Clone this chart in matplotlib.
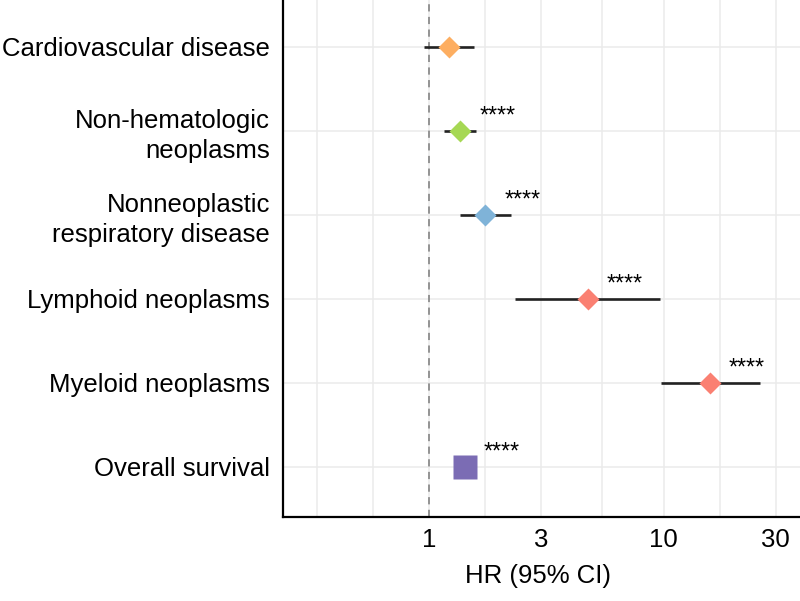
import numpy as np
import matplotlib
matplotlib.use("Agg")
import matplotlib.pyplot as plt
from matplotlib.ticker import FixedLocator, NullFormatter

# ---- data ----
categories = ["Cardiovascular disease", "Non-hematologic\nneoplasms",
              "Nonneoplastic\nrespiratory disease", "Lymphoid neoplasms",
              "Myeloid neoplasms", "Overall survival"]
hr = [1.22, 1.36, 1.74, 4.74, 15.7, 1.42]
ci_low = [0.95, 1.16, 1.36, 2.32, 9.7, 1.38]
ci_high = [1.55, 1.58, 2.23, 9.63, 25.7, 1.47]
signif = ["", "****", "****", "****", "****", "****"]
colors = ["#FDAE61", "#A6D854", "#7FB3D8", "#FA8072", "#FA8072", "#7B6CB4"]
markers = ["D", "D", "D", "D", "D", "s"]
x_ticks = [1, 3, 10, 30]
x_ticklabels = ["1", "3", "10", "30"]
x_minor = [1/3, np.sqrt(1/3), np.sqrt(3), np.sqrt(30), np.sqrt(300), 100]

plt.rcParams['font.family'] = ['Liberation Sans', 'DejaVu Sans']
FS = 18.5

fig = plt.figure(figsize=(8, 6.01), dpi=100)
W, H = 800, 601
ax_left_px, ax_right_px = 283, 830
ax_bottom_px, ax_top_px = 517, -3.8
ax = fig.add_axes([ax_left_px / W, (H - ax_bottom_px) / H,
                   (ax_right_px - ax_left_px) / W, (ax_bottom_px - ax_top_px) / H])

px_per_dec = 234.8
x0_px = 429
ax.set_xscale('log')
ax.set_xlim(10 ** ((ax_left_px - x0_px) / px_per_dec), 10 ** ((ax_right_px - x0_px) / px_per_dec))
ax.set_ylim(-0.6, 5.6)

n = len(categories)
ypos = [n - 1 - i for i in range(n)]

# grid
ax.xaxis.set_major_locator(FixedLocator(x_ticks))
ax.set_xticklabels(x_ticklabels)
ax.xaxis.set_minor_locator(FixedLocator(x_minor))
ax.xaxis.set_minor_formatter(NullFormatter())
ax.grid(True, which='both', axis='x', color='#EBEBEB', lw=1.1, zorder=0)
ax.set_yticks(ypos)
ax.set_yticklabels(categories)
ax.grid(True, which='major', axis='y', color='#EBEBEB', lw=1.1, zorder=0)
ax.set_axisbelow(True)

ax.axvline(1, color='#8C8C8C', ls=(0, (4, 3)), lw=1.3, zorder=1)

for i in range(n):
    y = ypos[i]
    ax.plot([ci_low[i], ci_high[i]], [y, y], color='#222222', lw=1.9, zorder=2,
            solid_capstyle='butt')
    ms = 11.3 if markers[i] == 'D' else 17.5
    ax.plot(hr[i], y, marker=markers[i], ms=ms, color=colors[i], mec='none', zorder=3)
    if signif[i]:
        ax.annotate(signif[i], xy=(hr[i], y), xytext=(13.5, 5.5), textcoords='offset points',
                    ha='left', va='baseline', fontsize=FS * 0.9, color='black')

for s in ['top', 'right']:
    ax.spines[s].set_visible(False)
for s in ['left', 'bottom']:
    ax.spines[s].set_linewidth(1.6)
    ax.spines[s].set_color('black')

ax.tick_params(axis='both', which='both', length=0, labelsize=FS, colors='black')
ax.tick_params(axis='y', pad=9.5)
ax.tick_params(axis='x', pad=8)
for t in ax.get_yticklabels():
    t.set_multialignment('right')
    t.set_linespacing(1.32)

fig.text(538 / W, 1 - 576 / H, "HR (95% CI)", ha='center', va='center', fontsize=FS)

fig.savefig("out.png", dpi=100)
